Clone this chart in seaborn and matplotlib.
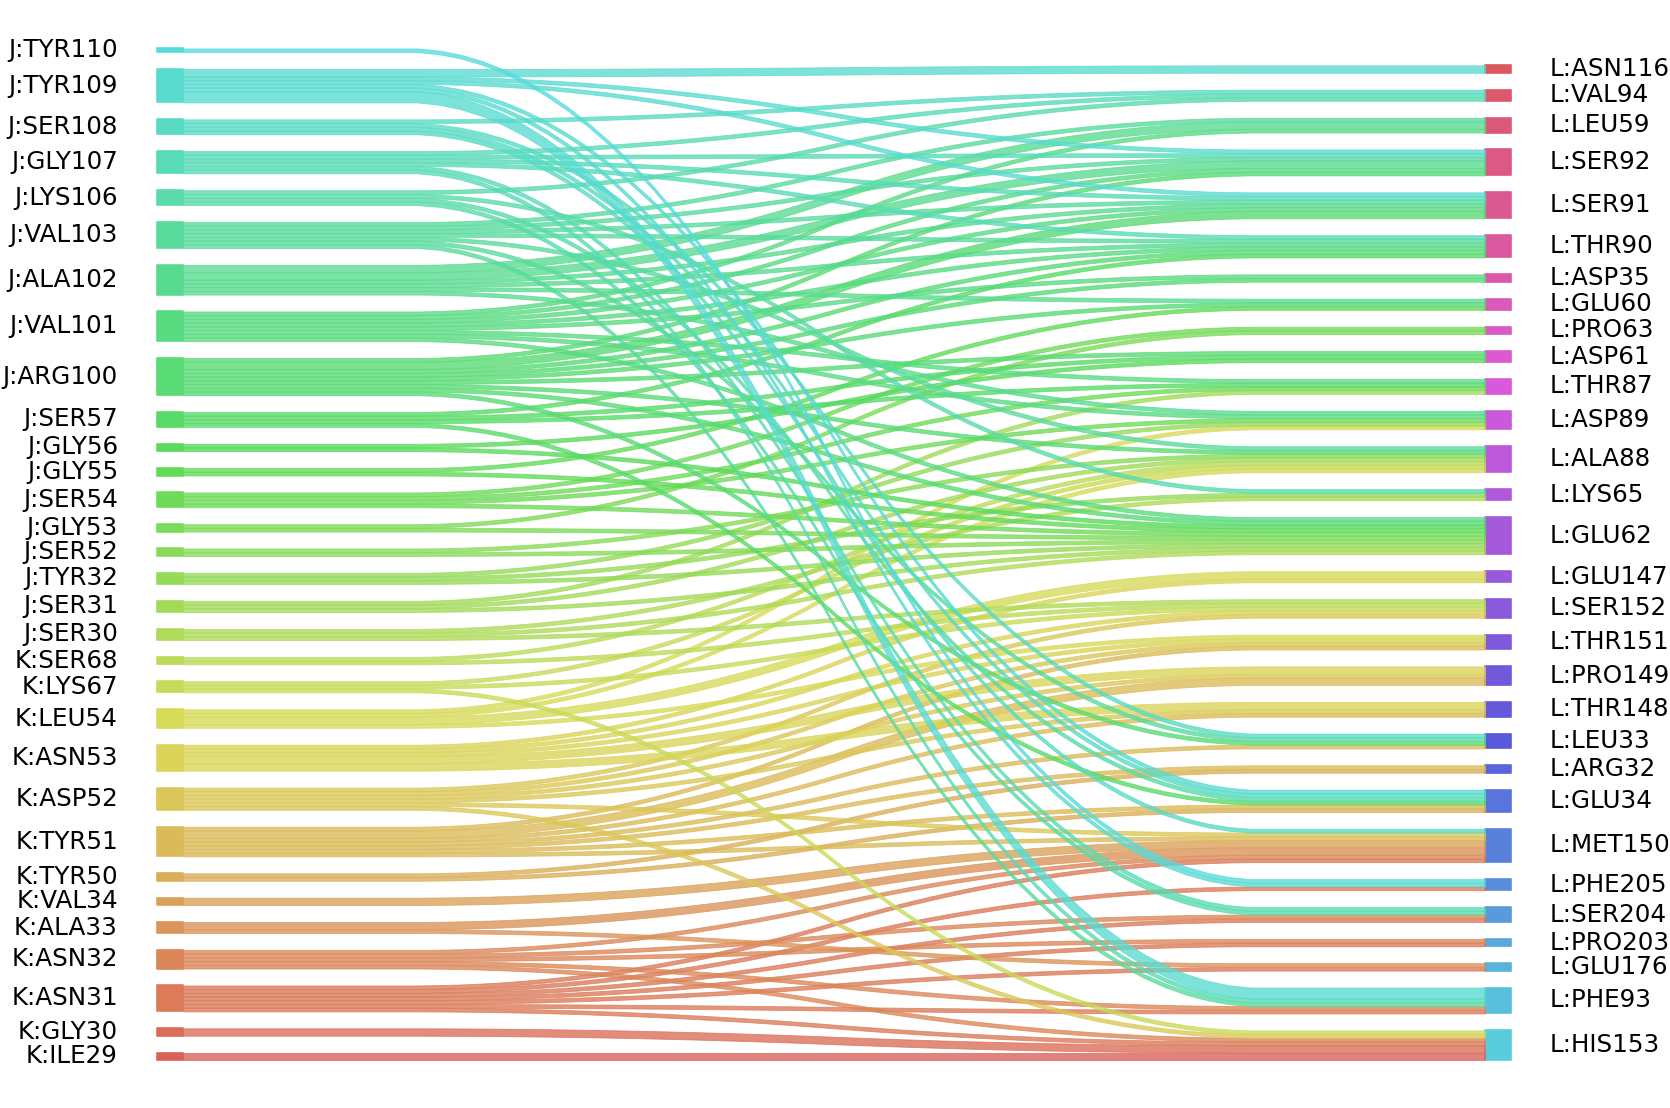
import numpy as np
import pandas as pd
import matplotlib
matplotlib.use("Agg")
import matplotlib.pyplot as plt
import seaborn as sns

# ── NODES (top to bottom, as in the figure) ──────────────────
left_nodes = ["J:TYR110", "J:TYR109", "J:SER108", "J:GLY107", "J:LYS106",
              "J:VAL103", "J:ALA102", "J:VAL101", "J:ARG100", "J:SER57",
              "J:GLY56", "J:GLY55", "J:SER54", "J:GLY53", "J:SER52",
              "J:TYR32", "J:SER31", "J:SER30", "K:SER68", "K:LYS67",
              "K:LEU54", "K:ASN53", "K:ASP52", "K:TYR51", "K:TYR50",
              "K:VAL34", "K:ALA33", "K:ASN32", "K:ASN31", "K:GLY30", "K:ILE29"]

right_nodes = ["L:ASN116", "L:VAL94", "L:LEU59", "L:SER92", "L:SER91",
               "L:THR90", "L:ASP35", "L:GLU60", "L:PRO63", "L:ASP61",
               "L:THR87", "L:ASP89", "L:ALA88", "L:LYS65", "L:GLU62",
               "L:GLU147", "L:SER152", "L:THR151", "L:PRO149", "L:THR148",
               "L:LEU33", "L:ARG32", "L:GLU34", "L:MET150", "L:PHE205",
               "L:SER204", "L:PRO203", "L:GLU176", "L:PHE93", "L:HIS153"]

# ── LINKS (contact counts) ───────────────────────────────────
link_left = (
    ["K:ILE29"] + ["K:GLY30"]
    + ["K:ASN31"] * 7 + ["K:ASN32"] * 5 + ["K:ALA33"] * 2 + ["K:VAL34"]
    + ["K:TYR50"] * 2 + ["K:TYR51"] * 7 + ["K:ASP52"] * 6 + ["K:ASN53"] * 5
    + ["K:LEU54"] * 4 + ["K:LYS67"] * 3 + ["K:SER68"] * 2
    + ["J:SER30"] * 3 + ["J:SER31"] * 3 + ["J:TYR32"] * 3 + ["J:SER52"] * 2
    + ["J:GLY53"] * 2 + ["J:SER54"] * 4 + ["J:GLY55"] * 2 + ["J:GLY56"] * 2
    + ["J:SER57"] * 4 + ["J:ARG100"] * 9 + ["J:VAL101"] * 8 + ["J:ALA102"] * 6
    + ["J:VAL103"] * 7 + ["J:LYS106"] * 4 + ["J:GLY107"] * 6 + ["J:SER108"] * 4
    + ["J:TYR109"] * 6 + ["J:TYR110"]
)
link_right = [
    "L:HIS153", "L:HIS153",
    "L:HIS153", "L:PHE93", "L:GLU176", "L:PRO203", "L:SER204", "L:PHE205", "L:MET150",
    "L:HIS153", "L:PHE93", "L:PRO203", "L:SER204", "L:MET150",
    "L:GLU176", "L:MET150",
    "L:MET150",
    "L:GLU34", "L:ARG32",
    "L:MET150", "L:GLU34", "L:ARG32", "L:LEU33", "L:THR148", "L:PRO149", "L:THR151",
    "L:HIS153", "L:MET150", "L:THR148", "L:PRO149", "L:THR151", "L:SER152",
    "L:THR148", "L:PRO149", "L:THR151", "L:SER152", "L:GLU147",
    "L:THR151", "L:GLU147", "L:ALA88", "L:ASP89",
    "L:HIS153", "L:SER152", "L:ALA88",
    "L:SER152", "L:ALA88",
    "L:SER152", "L:GLU62", "L:LYS65",
    "L:GLU62", "L:ALA88", "L:THR87",
    "L:GLU62", "L:LYS65", "L:ASP89",
    "L:GLU62", "L:ALA88",
    "L:GLU62", "L:PRO63",
    "L:GLU62", "L:ASP89", "L:THR87", "L:PRO63",
    "L:GLU62", "L:GLU60",
    "L:GLU62", "L:ASP61",
    "L:GLU34", "L:THR87", "L:ASP61", "L:THR90",
    "L:LEU33", "L:GLU62", "L:ALA88", "L:ASP61", "L:GLU60", "L:ASP35", "L:THR90", "L:SER91", "L:SER92",
    "L:GLU62", "L:ASP89", "L:THR87", "L:ASP35", "L:THR90", "L:SER91", "L:SER92", "L:LEU59",
    "L:ASP89", "L:GLU60", "L:THR90", "L:SER91", "L:SER92", "L:LEU59",
    "L:PHE93", "L:LEU33", "L:ALA88", "L:THR90", "L:SER91", "L:SER92", "L:LEU59",
    "L:SER204", "L:GLU34", "L:LYS65", "L:VAL94",
    "L:PHE93", "L:SER204", "L:THR90", "L:SER91", "L:SER92", "L:VAL94",
    "L:MET150", "L:GLU34", "L:LEU33", "L:VAL94",
    "L:PHE93", "L:PHE205", "L:GLU34", "L:SER91", "L:SER92", "L:ASN116",
    "L:PHE205",
]
link_weight = [
    2, 2,
    1, 1, 1, 1, 1, 1, 1,
    1, 1, 1, 1, 1,
    1, 2,
    2,
    1, 1,
    1, 1, 1, 1, 1, 2, 1,
    1, 1, 1, 1, 1, 1,
    2, 2, 1, 1, 1,
    1, 2, 1, 1,
    1, 1, 1,
    1, 1,
    1, 1, 1,
    1, 1, 1,
    1, 1, 1,
    1, 1,
    1, 1,
    1, 1, 1, 1,
    1, 1,
    1, 1,
    1, 1, 1, 1,
    1, 1, 1, 1, 1, 1, 1, 2, 1,
    1, 1, 1, 1, 1, 1, 1, 1,
    1, 1, 1, 1, 2, 2,
    1, 1, 1, 1, 1, 1, 1,
    1, 1, 1, 1,
    1, 1, 1, 1, 1, 1,
    1, 1, 1, 1,
    3, 1, 1, 1, 1, 2,
    1,
]

df = pd.DataFrame({"left": link_left, "right": link_right, "weight": link_weight})

# ── LAYOUT (bottom-up stacking, sankey style) ────────────────
left_order = left_nodes[::-1]
right_order = right_nodes[::-1]
palette = sns.color_palette("hls", len(left_order) + len(right_order))
colors = dict(zip(left_order + right_order, palette))

total = df["weight"].sum()
gap = 0.0335 * total
flows = df.pivot_table(index="left", columns="right", values="weight",
                       aggfunc="sum", fill_value=0)


def stack(order, sums):
    pos, y = {}, 0.0
    for lab in order:
        pos[lab] = [y, y + sums[lab]]
        y += sums[lab] + gap
    return pos


left_pos = stack(left_order, df.groupby("left")["weight"].sum())
right_pos = stack(right_order, df.groupby("right")["weight"].sum())
top = max(v[1] for v in left_pos.values())


def smooth(y0, y1):
    ys = np.array(50 * [y0] + 50 * [y1], dtype=float)
    ys = np.convolve(ys, 0.05 * np.ones(20), mode="valid")
    return np.convolve(ys, 0.05 * np.ones(20), mode="valid")


fig = plt.figure(figsize=(16.7, 11.08), dpi=100)
ax = fig.add_axes([0, 0, 1, 1])
ax.axis("off")

bar = 0.02
for lab, (b, t) in left_pos.items():
    ax.fill_between([-bar, 0], [b, b], [t, t], color=colors[lab], alpha=0.99,
                    lw=1.2, joinstyle="round")
    ax.text(-0.05, (b + t) / 2, lab, ha="right", va="center", fontsize=17.7)
for lab, (b, t) in right_pos.items():
    ax.fill_between([1, 1 + bar], [b, b], [t, t], color=colors[lab], alpha=0.99,
                    lw=1.2, joinstyle="round")
    ax.text(1.05, (b + t) / 2, lab, ha="left", va="center", fontsize=17.7)

# links
xs = np.linspace(0, 1, 62)
l_cur = {k: v[0] for k, v in left_pos.items()}
r_cur = {k: v[0] for k, v in right_pos.items()}
for ll in left_order:
    for rr in right_order:
        w = flows.loc[ll, rr] if (ll in flows.index and rr in flows.columns) else 0
        if w == 0:
            continue
        lo = smooth(l_cur[ll], r_cur[rr])
        hi = smooth(l_cur[ll] + w, r_cur[rr] + w)
        ax.fill_between(xs, lo, hi, color=colors[ll], alpha=0.78, lw=0.6)
        l_cur[ll] += w
        r_cur[rr] += w

ax.set_xlim(-0.1406, 1.1421)
ax.set_ylim(-0.0474 * top, 1.0479 * top)
fig.savefig("out.png", dpi=100)
